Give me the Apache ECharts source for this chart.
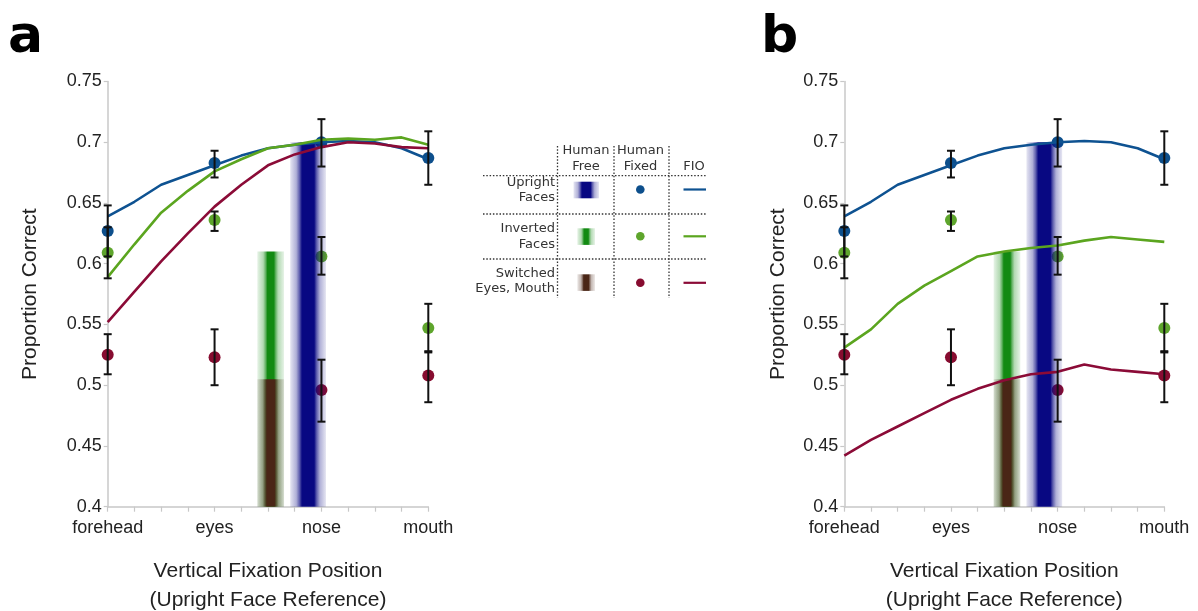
<!DOCTYPE html>
<html>
<head>
<meta charset="utf-8">
<title>Proportion correct by vertical fixation position</title>
<script src="https://cdn.jsdelivr.net/npm/echarts@6/dist/echarts.min.js"></script>
<style>
  html, body { margin: 0; padding: 0; background: #ffffff; }
  #chart { width: 1198px; height: 611px; }
</style>
</head>
<body>
<div id="chart"></div>
<script>
// Vertical fixation positions (0 = forehead ... 12 = mouth), one tick per step
const positionNames = { 0: 'forehead', 4: 'eyes', 8: 'nose', 12: 'mouth' };
const fioPositions = [0, 1, 2, 3, 4, 5, 6, 7, 8, 9, 10, 11, 12];
const yTickValues = [0.4, 0.45, 0.5, 0.55, 0.6, 0.65, 0.7, 0.75];

// Human, fixed fixation: mean proportion correct and error-bar limits
const fixedPositions = [0, 4, 8, 12];
const fixedUpright = [0.627, 0.683, 0.700, 0.687];
const fixedUprightLow = [0.606, 0.671, 0.680, 0.665];
const fixedUprightHigh = [0.648, 0.693, 0.719, 0.709];
const fixedInverted = [0.609, 0.636, 0.606, 0.547];
const fixedInvertedLow = [0.588, 0.627, 0.591, 0.528];
const fixedInvertedHigh = [0.630, 0.643, 0.622, 0.567];
const fixedSwitched = [0.525, 0.523, 0.496, 0.508];
const fixedSwitchedLow = [0.509, 0.500, 0.470, 0.486];
const fixedSwitchedHigh = [0.542, 0.546, 0.521, 0.527];

// Human, free viewing: preferred fixation position and proportion correct
const freeCenters = [7.5, 6.1, 6.1];          // upright, inverted, switched
const freeValues = [0.700, 0.610, 0.505];

// Foveated ideal observer (FIO) curves
const fioUpright = [0.639, 0.651, 0.665, 0.673, 0.681, 0.689, 0.695, 0.698, 0.700, 0.701, 0.700, 0.695, 0.686];
const fioInvertedA = [0.589, 0.616, 0.642, 0.660, 0.676, 0.686, 0.695, 0.698, 0.702, 0.703, 0.702, 0.704, 0.698];
const fioSwitchedA = [0.552, 0.577, 0.602, 0.625, 0.647, 0.665, 0.681, 0.690, 0.696, 0.700, 0.699, 0.696, 0.695];
const fioInvertedB = [0.531, 0.546, 0.567, 0.582, 0.594, 0.606, 0.610, 0.613, 0.615, 0.619, 0.622, 0.620, 0.618];
const fioSwitchedB = [0.442, 0.455, 0.466, 0.477, 0.488, 0.497, 0.504, 0.509, 0.511, 0.517, 0.513, 0.511, 0.509];

// ---------------------------------------------------------------------------
const LINE = { upright: '#0e5291', inverted: '#5ba51f', switched: '#8b0b37' };
const DOT = { upright: '#0d4f8c', inverted: '#5ea52c', switched: '#870c30' };
const AXIS_FONT = 'Liberation Sans, Arial, sans-serif';
const TABLE_FONT = 'DejaVu Sans, sans-serif';

function bandGradient(r, g, b, core) {
  const c = a => `rgba(${r},${g},${b},${a})`;
  return new echarts.graphic.LinearGradient(0, 0, 1, 0, [
    { offset: 0, color: c(0.1) },
    { offset: 0.5 - core - 0.16, color: c(0.32) },
    { offset: 0.5 - core - 0.07, color: c(0.65) },
    { offset: 0.5 - core, color: c(1) },
    { offset: 0.5 + core, color: c(1) },
    { offset: 0.5 + core + 0.07, color: c(0.65) },
    { offset: 0.5 + core + 0.16, color: c(0.32) },
    { offset: 1, color: c(0.1) }
  ]);
}

const BAND = [
  { fill: bandGradient(8, 8, 130, 0.17), halfWidth: 0.67 },
  { fill: bandGradient(18, 138, 18, 0.12), halfWidth: 0.5 },
  { fill: bandGradient(74, 38, 22, 0.14), halfWidth: 0.5 }
];

function pairs(xs, ys) { return xs.map((x, i) => [x, ys[i]]); }
function triples(xs, lo, hi) { return xs.map((x, i) => [x, lo[i], hi[i]]); }

function bandSeries(gi, k) {
  return {
    type: 'custom', xAxisIndex: gi, yAxisIndex: gi, z: 3, silent: true,
    data: [[freeCenters[k], freeValues[k]]],
    renderItem(params, api) {
      const c = api.value(0), top = api.value(1);
      const p0 = api.coord([c - BAND[k].halfWidth, top]);
      const p1 = api.coord([c + BAND[k].halfWidth, yTickValues[0]]);
      return {
        type: 'rect',
        shape: { x: p0[0], y: p0[1], width: p1[0] - p0[0], height: p1[1] - p0[1] },
        style: { fill: BAND[k].fill }
      };
    }
  };
}

function dotSeries(gi, values, color) {
  return {
    type: 'scatter', xAxisIndex: gi, yAxisIndex: gi, z: 2, silent: true,
    symbolSize: 12, itemStyle: { color: color, opacity: 1 },
    data: pairs(fixedPositions, values)
  };
}

function errorSeries(gi, lo, hi) {
  return {
    type: 'custom', xAxisIndex: gi, yAxisIndex: gi, z: 6, silent: true,
    data: triples(fixedPositions, lo, hi),
    encode: { x: 0, y: [1, 2] },
    renderItem(params, api) {
      const x = api.value(0);
      const a = api.coord([x, api.value(1)]);
      const b = api.coord([x, api.value(2)]);
      const cap = 4;
      const st = { stroke: '#111', lineWidth: 2 };
      return {
        type: 'group',
        children: [
          { type: 'line', shape: { x1: a[0], y1: a[1], x2: b[0], y2: b[1] }, style: st },
          { type: 'line', shape: { x1: a[0] - cap, y1: a[1], x2: a[0] + cap, y2: a[1] }, style: st },
          { type: 'line', shape: { x1: b[0] - cap, y1: b[1], x2: b[0] + cap, y2: b[1] }, style: st }
        ]
      };
    }
  };
}

function fioSeries(gi, values, color) {
  return {
    type: 'line', xAxisIndex: gi, yAxisIndex: gi, z: 5, silent: true,
    showSymbol: false, smooth: false,
    lineStyle: { color: color, width: 2.6 },
    data: pairs(fioPositions, values)
  };
}

function panelSeries(gi, fioInv, fioSw) {
  return [
    dotSeries(gi, fixedUpright, DOT.upright),
    dotSeries(gi, fixedInverted, DOT.inverted),
    dotSeries(gi, fixedSwitched, DOT.switched),
    bandSeries(gi, 0),
    bandSeries(gi, 1),
    bandSeries(gi, 2),
    fioSeries(gi, fioUpright, LINE.upright),
    fioSeries(gi, fioInv, LINE.inverted),
    fioSeries(gi, fioSw, LINE.switched),
    errorSeries(gi, fixedUprightLow, fixedUprightHigh),
    errorSeries(gi, fixedInvertedLow, fixedInvertedHigh),
    errorSeries(gi, fixedSwitchedLow, fixedSwitchedHigh)
  ];
}

function xAxisFor(gi) {
  return {
    type: 'value', gridIndex: gi, min: 0, max: 12, interval: 1,
    name: 'Vertical Fixation Position\n(Upright Face Reference)',
    nameLocation: 'middle', nameGap: 50,
    nameTextStyle: { fontFamily: AXIS_FONT, fontSize: 21, color: '#222', lineHeight: 29 },
    axisLine: { show: true, onZero: false, lineStyle: { color: '#c8c8c8', width: 1.5 } },
    axisTick: { show: true, length: 5, lineStyle: { color: '#c8c8c8', width: 1.2 } },
    axisLabel: {
      margin: 12, fontFamily: AXIS_FONT, fontSize: 18, color: '#222',
      showMinLabel: true, showMaxLabel: true,
      formatter: v => positionNames[v] || ''
    },
    splitLine: { show: false }
  };
}

function yAxisFor(gi, gap) {
  return {
    type: 'value', gridIndex: gi,
    min: yTickValues[0], max: yTickValues[yTickValues.length - 1], interval: 0.05,
    name: 'Proportion Correct', nameLocation: 'middle', nameGap: gap,
    nameTextStyle: { fontFamily: AXIS_FONT, fontSize: 21, color: '#222' },
    axisLine: { show: true, lineStyle: { color: '#c8c8c8', width: 1.5 } },
    axisTick: { show: true, length: 4, lineStyle: { color: '#c8c8c8', width: 1.2 } },
    axisLabel: {
      margin: 6, fontFamily: AXIS_FONT, fontSize: 18, color: '#222',
      formatter: v => String(+v.toFixed(2))
    },
    splitLine: { show: false }
  };
}

// ---- key table drawn between the two panels ----
function keyTable() {
  const els = [];
  const dotted = { stroke: '#333', lineWidth: 1.3, lineDash: [1.5, 1.8] };
  [175.7, 214, 259].forEach(y => els.push({
    type: 'line', silent: true, shape: { x1: 483, y1: y, x2: 707, y2: y }, style: dotted
  }));
  [557.5, 614, 669].forEach(x => els.push({
    type: 'line', silent: true, shape: { x1: x, y1: 146, x2: x, y2: 298 }, style: dotted
  }));
  const txt = (x, y, s, align) => els.push({
    type: 'text', silent: true, x: x, y: y,
    style: { text: s, fontFamily: TABLE_FONT, fontSize: 13, fill: '#333',
             align: align || 'center', verticalAlign: 'middle' }
  });
  txt(586, 151, 'Human'); txt(586, 166.7, 'Free');
  txt(640.5, 151, 'Human'); txt(640.5, 166.7, 'Fixed');
  txt(694, 166.7, 'FIO');
  txt(555, 182.3, 'Upright', 'right'); txt(555, 197.7, 'Faces', 'right');
  txt(555, 229, 'Inverted', 'right'); txt(555, 244.3, 'Faces', 'right');
  txt(555, 273.3, 'Switched', 'right'); txt(555, 289, 'Eyes, Mouth', 'right');

  const rows = [
    { y: 189.5, key: 'upright', sw: [573.5, 181.7, 25.5, 16.6], band: 0 },
    { y: 236.3, key: 'inverted', sw: [577.3, 228.3, 17.7, 16.6], band: 1 },
    { y: 282.8, key: 'switched', sw: [577.3, 274.3, 17.7, 16.6], band: 2 }
  ];
  rows.forEach(r => {
    els.push({ type: 'rect', silent: true,
      shape: { x: r.sw[0], y: r.sw[1], width: r.sw[2], height: r.sw[3] },
      style: { fill: BAND[r.band].fill } });
    els.push({ type: 'circle', silent: true, shape: { cx: 640.3, cy: r.y, r: 4.3 },
      style: { fill: DOT[r.key] } });
    els.push({ type: 'line', silent: true, shape: { x1: 683.5, y1: r.y, x2: 706, y2: r.y },
      style: { stroke: LINE[r.key], lineWidth: 2.2 } });
  });
  return els;
}

const chart = echarts.init(document.getElementById('chart'), null, { renderer: 'canvas' });
chart.setOption({
  animation: false,
  backgroundColor: '#ffffff',
  grid: [
    { left: 107.7, top: 81.5, width: 320.6, height: 425.2, containLabel: false, outerBoundsMode: 'none' },
    { left: 844.3, top: 81.5, width: 320.0, height: 425.2, containLabel: false, outerBoundsMode: 'none' }
  ],
  xAxis: [xAxisFor(0), xAxisFor(1)],
  yAxis: [yAxisFor(0, 67), yAxisFor(1, 56)],
  series: [].concat(
    panelSeries(0, fioInvertedA, fioSwitchedA),
    panelSeries(1, fioInvertedB, fioSwitchedB)
  ),
  graphic: [
    { type: 'text', silent: true, x: 8, y: 12,
      style: { text: 'a', fontFamily: TABLE_FONT, fontWeight: 'bold', fontSize: 52, fill: '#000' } },
    { type: 'text', silent: true, x: 761, y: 12,
      style: { text: 'b', fontFamily: TABLE_FONT, fontWeight: 'bold', fontSize: 52, fill: '#000' } }
  ].concat(keyTable())
});
</script>
</body>
</html>
